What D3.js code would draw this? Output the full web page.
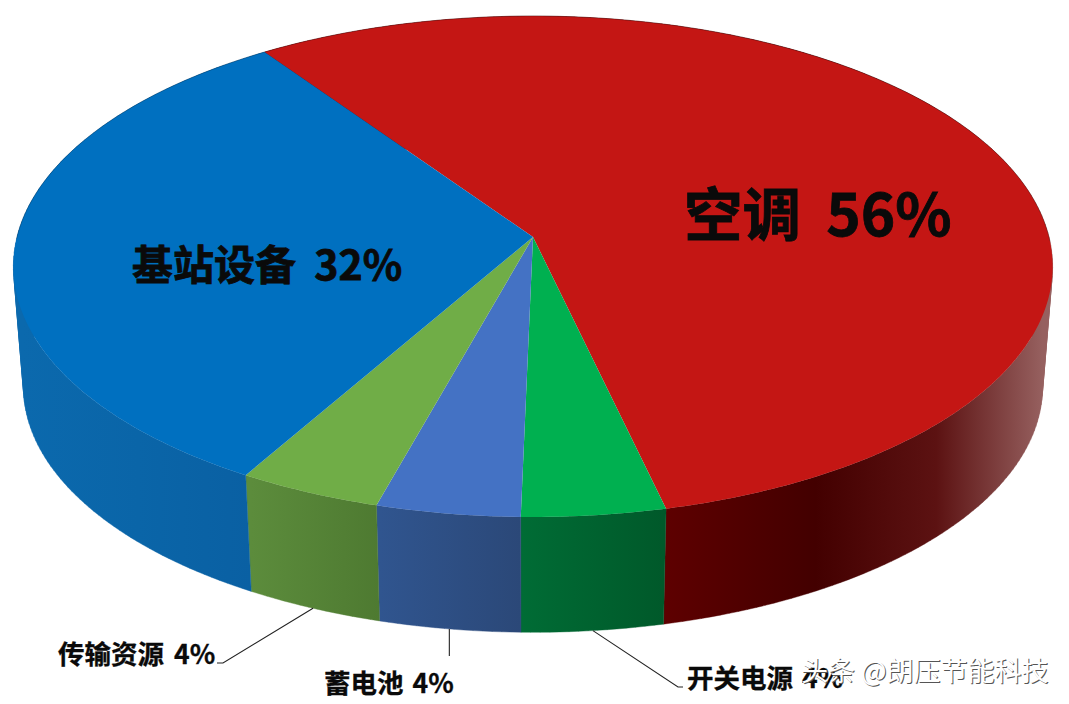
<!DOCTYPE html>
<html><head><meta charset="utf-8">
<script src="https://cdn.jsdelivr.net/npm/d3@7/dist/d3.min.js"></script>
<style>html,body{margin:0;padding:0;background:#fff;overflow:hidden}svg{display:block}
text{font-family:"Noto Sans CJK SC",sans-serif;font-weight:700;fill:#0a0a0a}</style>
</head><body><svg id="c" width="1069" height="704"></svg>
<script>
const categories = ["空调","开关电源","蓄电池","传输资源","基站设备"];
const values = [56,4,4,4,32];
const topColors = ["#C41614","#00B050","#4472C4","#70AD47","#0070C0"];
const sideStops = [
  [[0,"#5e0000"],[0.4,"#430000"],[0.72,"#5c1212"],[1,"#96605f"]],
  [[0,"#006c35"],[1,"#00592a"]],
  [[0,"#30558f"],[1,"#2b4878"]],
  [[0,"#5c8c3c"],[1,"#4e7a31"]],
  [[0,"#0b69ad"],[0.5,"#0a65a8"],[1,"#0a60a3"]]
];

const svg=d3.select("#c");
const deg=Math.PI/180, start=325.2*deg;
const arcs=d3.pie().sort(null).startAngle(start).endAngle(start+2*Math.PI)(values);

// perspective projection of a unit disc
function projector(x0,y0,a,b,k){
  return t=>{const u=Math.sin(t),v=-Math.cos(t),d=1-k*v;return [x0+a*u/d,y0+b*v/d];};
}
const pTop=projector(533,237,516,247,0.1178);
const pBot=projector(533,358,506,242,0.1178);
const N=a=>Math.max(2,Math.ceil((a.endAngle-a.startAngle)/(1*deg)));
const ang=a=>d3.range(N(a)+1).map(i=>a.startAngle+(a.endAngle-a.startAngle)*i/N(a));
const line=d3.line();

const defs=svg.append("defs");
arcs.forEach((a,i)=>{
  const vis=ang(a).filter(t=>Math.cos(t)<0.05).map(t=>pBot(t)[0]);
  const g=defs.append("linearGradient").attr("id","s"+i).attr("gradientUnits","userSpaceOnUse")
    .attr("x1",d3.min(vis)).attr("x2",d3.max(vis)).attr("y1",0).attr("y2",0);
  sideStops[i].forEach(s=>g.append("stop").attr("offset",s[0]).attr("stop-color",s[1]));
});

// side walls: swept strips, so the silhouette follows the tangent between rims
svg.append("g").selectAll("path").data(arcs).join("path")
  .attr("d",a=>{
    const ts=ang(a);
    return d3.pairs(ts).map(([t0,t1])=>{
      const q=[pTop(t0),pTop(t1),pBot(t1),pBot(t0)];
      const area=d3.polygonArea(q);
      return line(area<0?q.reverse():q)+"Z";
    }).join("");
  })
  .attr("fill",(a,i)=>`url(#s${i})`)
  .attr("stroke",(a,i)=>`url(#s${i})`).attr("stroke-width",0.4);

// top faces
svg.append("g").selectAll("path").data(arcs).join("path")
  .attr("d",a=>line([[533,237]].concat(ang(a).map(pTop)))+"Z")
  .attr("fill",(a,i)=>topColors[i]);

// darker thin rim along the far edge of the top face
svg.append("g").selectAll("path").data([arcs[0],arcs[4]]).join("path")
  .attr("d",a=>line(ang(a).filter(t=>Math.cos(t)>-0.02).map(pTop)))
  .attr("fill","none").attr("stroke","#000").attr("stroke-opacity",0.22).attr("stroke-width",1);

// leader lines
const mid=a=>(a.startAngle+a.endAngle)/2;
const leaders=[
  {i:3,elbow:[223,663],end:[217,663]},
  {i:2,elbow:null,endY:656},
  {i:1,elbow:[678,687],end:[683,687]}
];
svg.append("g").selectAll("path").data(leaders).join("path")
  .attr("d",d=>{
    const s=pBot(mid(arcs[d.i]));
    return line(d.elbow?[s,d.elbow,d.end]:[s,[s[0],d.endY]]);
  })
  .attr("fill","none").attr("stroke","#222").attr("stroke-width",1.1);

// labels
const labels=[
  {t:categories[0]+" "+values[0]+"%",x:684,y:236,s:58.5,w:12},
  {t:categories[4]+" "+values[4]+"%",x:132,y:280,s:41,w:9},
  {t:categories[3]+" "+values[3]+"%",x:58,y:664,s:26.5,w:4},
  {t:categories[2]+" "+values[2]+"%",x:324,y:693,s:26.5,w:3},
  {t:categories[1]+" "+values[1]+"%",x:687,y:688,s:26.5,w:3}
];
svg.append("g").selectAll("text").data(labels).join("text")
  .attr("x",d=>d.x).attr("y",d=>d.y).attr("font-size",d=>d.s)
  .attr("word-spacing",d=>d.w)
  .attr("stroke","#0a0a0a").attr("stroke-width",d=>d.s>30?0.8:0.3)
  .text(d=>d.t);

// watermark
const wm="头条 @朗压节能科技";
[["#555",0.9,0.9],["#fff",0,0]].forEach(([c,dx,dy])=>{
  svg.append("text").attr("x",801+dx).attr("y",681+dy).attr("font-size",27)
    .style("font-weight",400).style("fill",c).text(wm);
});
</script></body></html>
